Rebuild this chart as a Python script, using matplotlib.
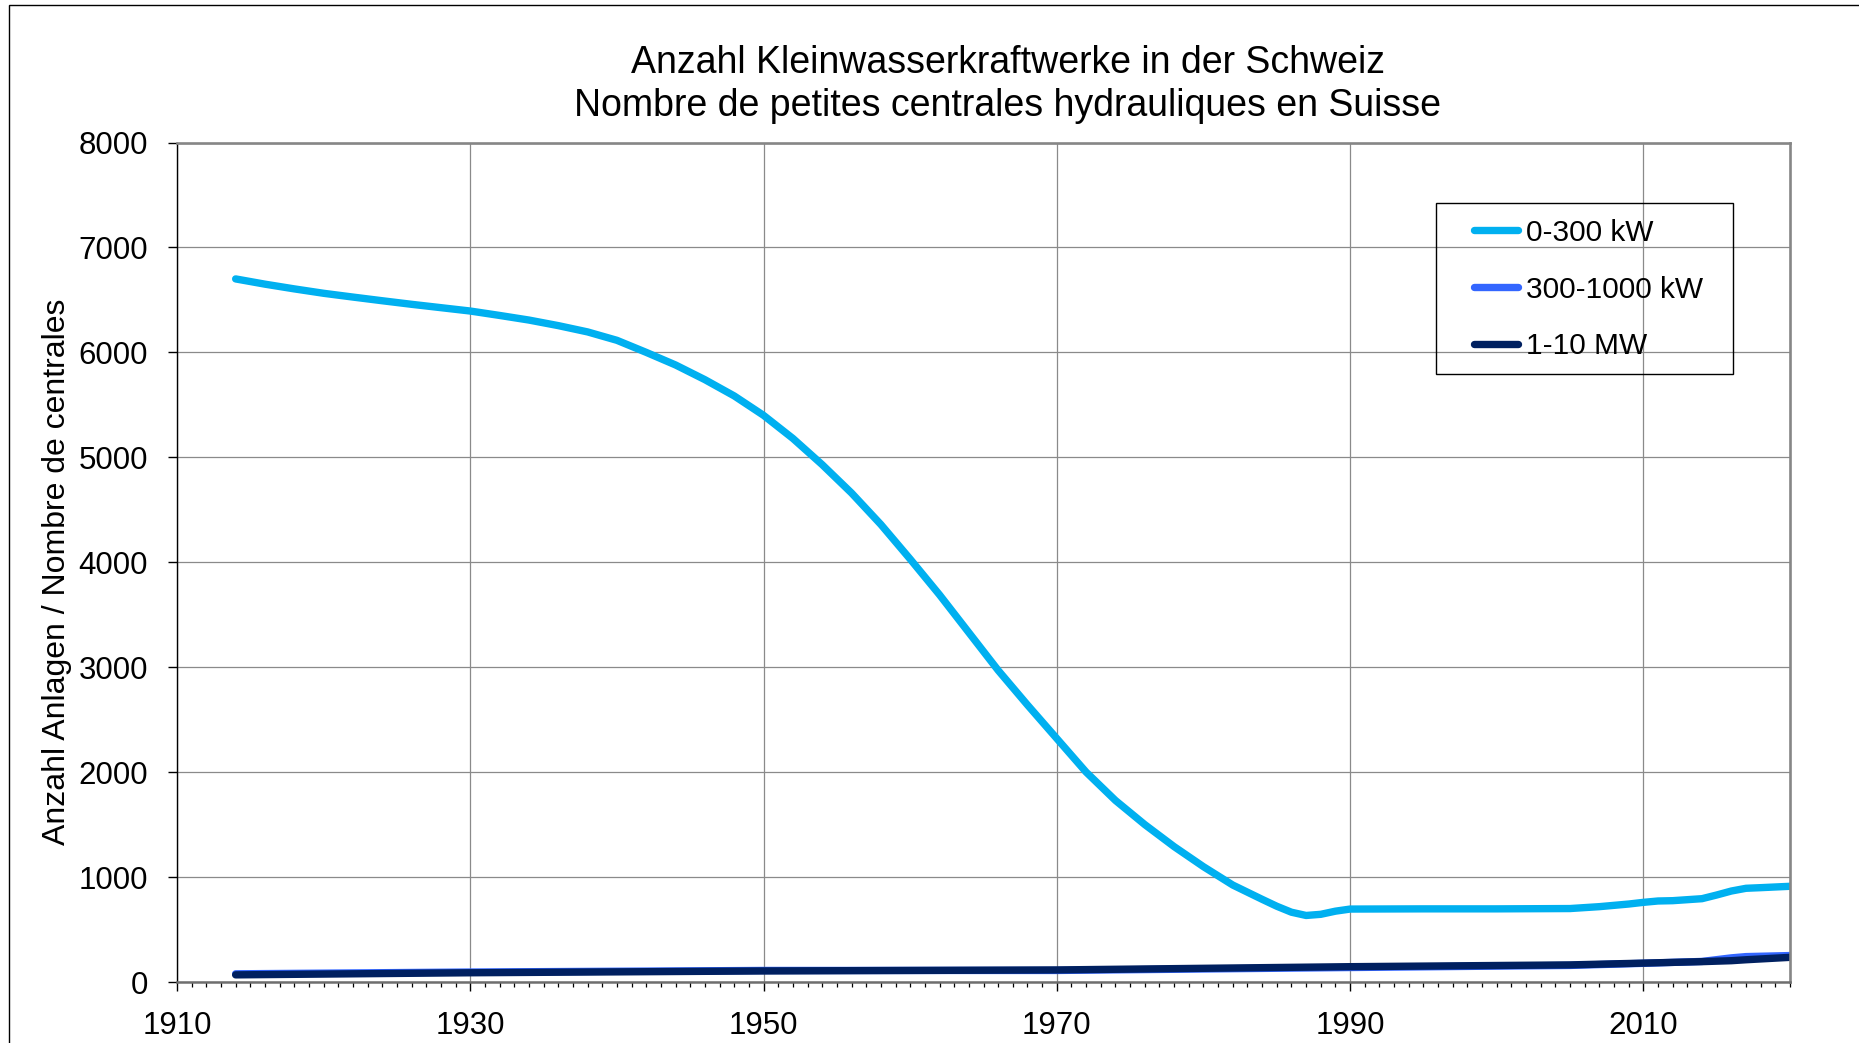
import matplotlib.pyplot as plt
import matplotlib.patches as patches
from matplotlib.ticker import MultipleLocator

plt.rcParams['font.family'] = ['Liberation Sans', 'DejaVu Sans']

# 0-300 kW
years_small = [1914, 1916, 1918, 1920, 1922, 1924, 1926, 1928, 1930, 1932, 1934, 1936, 1938,
               1940, 1942, 1944, 1946, 1948, 1950, 1952, 1954, 1956, 1958, 1960, 1962, 1964,
               1966, 1968, 1970, 1972, 1974, 1976, 1978, 1980, 1982, 1984, 1985, 1986, 1987,
               1988, 1989, 1990, 1995, 2000, 2005, 2007, 2009, 2010, 2011, 2012, 2014, 2015,
               2016, 2017, 2018, 2020]
values_small = [6700, 6650, 6605, 6563, 6527, 6492, 6458, 6426, 6394, 6352, 6308, 6255, 6195,
                6115, 6000, 5880, 5740, 5585, 5400, 5180, 4930, 4660, 4360, 4030, 3690, 3330,
                2970, 2640, 2320, 2000, 1730, 1500, 1290, 1099, 924, 788, 722, 665, 634,
                645, 675, 695, 697, 697, 700, 718, 743, 759, 772, 775, 794, 829,
                867, 893, 899, 912]

# 300-1000 kW
years_mid = [1914, 1930, 1950, 1970, 1990, 2005, 2010, 2014, 2016, 2017, 2020]
values_mid = [78, 95, 110, 110, 138, 158, 178, 196, 230, 242, 252]

# 1-10 MW
years_big = [1914, 1930, 1950, 1970, 1990, 2005, 2010, 2014, 2016, 2017, 2020]
values_big = [68, 88, 105, 115, 146, 163, 180, 194, 203, 212, 235]

labels = ['0-300 kW', '300-1000 kW', '1-10 MW']
colors = ['#00B0F0', '#3366FF', '#002060']

W, H = 1859, 1043
fig = plt.figure(figsize=(W / 100, H / 100), dpi=100)

# rahmen um das ganze diagramm (rechts/unten abgeschnitten)
fig.patches.append(patches.Rectangle((8.5 / W, -0.1), 2, 1 - 4.7 / H + 0.1, transform=fig.transFigure,
                                     fill=False, edgecolor='black', linewidth=1.0))

ax = fig.add_axes([177 / W, 1 - 982 / H, (1790 - 177) / W, (982 - 142.5) / H])

ax.plot(years_small, values_small, color=colors[0], lw=5.3, solid_capstyle='round', solid_joinstyle='round', label=labels[0])
ax.plot(years_mid, values_mid, color=colors[1], lw=5.3, solid_capstyle='round', solid_joinstyle='round', label=labels[1])
ax.plot(years_big, values_big, color=colors[2], lw=5.3, solid_capstyle='round', solid_joinstyle='round', label=labels[2])

ax.set_xlim(1910, 2020)
ax.set_ylim(0, 8000)
ax.set_xticks(range(1910, 2021, 20))
ax.xaxis.set_minor_locator(MultipleLocator(1))
ax.set_yticks(range(0, 8001, 1000))
ax.grid(True, which='major', color='#8a8a8a', lw=0.9)
ax.set_axisbelow(True)

ax.tick_params(axis='x', which='major', direction='out', length=6.5, width=1.0, pad=14.5, labelsize=22.5)
ax.tick_params(axis='x', which='minor', direction='out', length=3.6, width=0.9)
ax.tick_params(axis='y', which='major', direction='out', length=6.5, width=1.0, pad=14.4, labelsize=22.5)

ax.spines['left'].set_color('black')
ax.spines['left'].set_linewidth(1.0)
ax.spines['bottom'].set_color('#6e6e6e')
ax.spines['bottom'].set_linewidth(1.8)
for s in ['top', 'right']:
    ax.spines[s].set_color('#868686')
    ax.spines[s].set_linewidth(1.9)

# titel (zweisprachig)
fig.text(1008 / W, 1 - 62.8 / H, 'Anzahl Kleinwasserkraftwerke in der Schweiz', ha='center', va='center', fontsize=27)
fig.text(1008 / W, 1 - 105.5 / H, 'Nombre de petites centrales hydrauliques en Suisse', ha='center', va='center', fontsize=27)
fig.text(57 / W, 1 - 572 / H, 'Anzahl Anlagen / Nombre de centrales', rotation=90, ha='center', va='center', fontsize=23)

# legende: rahmen separat
fig.patches.append(patches.Rectangle((1435.7 / W, 1 - 374 / H), (1733 - 1435.7) / W, (374 - 203.3) / H,
                                     transform=fig.transFigure, fill=False, edgecolor='black', linewidth=1.0))
leg = ax.legend(loc='center left', bbox_to_anchor=(1474 / W, 1 - 289.5 / H), bbox_transform=fig.transFigure,
                frameon=False, fontsize=21.5, handlelength=1.47, handletextpad=0.27, borderpad=0,
                borderaxespad=0, labelspacing=0.97)

plt.savefig('out.png', dpi=100)
